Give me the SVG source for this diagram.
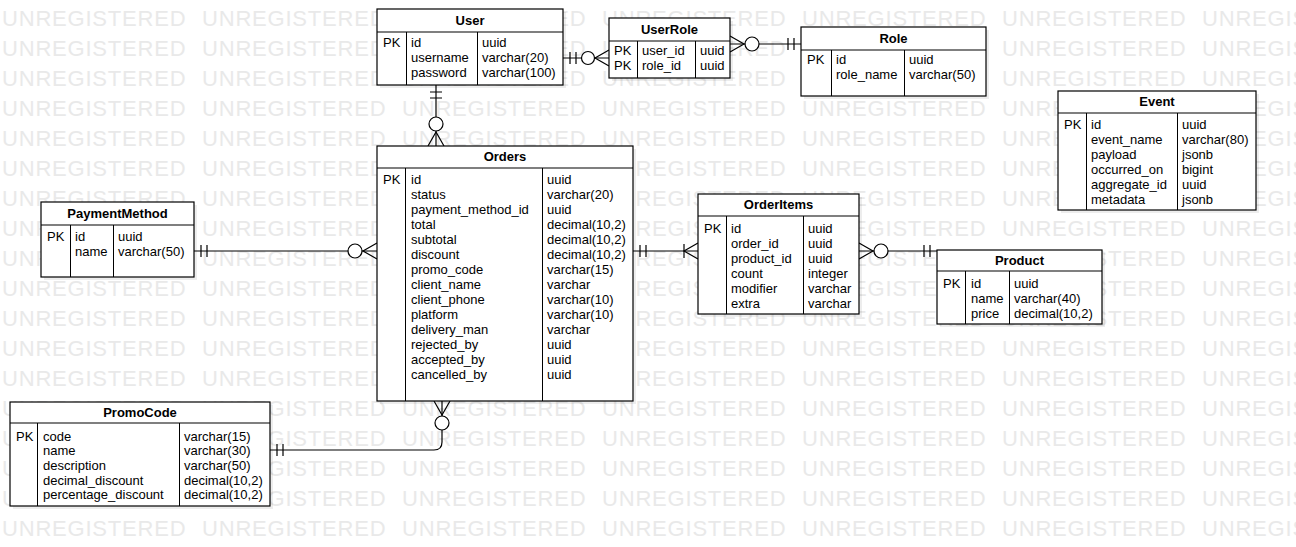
<svg xmlns="http://www.w3.org/2000/svg" width="1296" height="547" viewBox="0 0 1296 547">
  <style>
    .wm { font-family: "Liberation Sans", Arial, sans-serif; font-size: 22px; fill: #e9e9e9; letter-spacing: 0.8px; word-spacing: 8.7px; }
    .box { fill: #ffffff; stroke: #000; stroke-width: 1.2; }
    .shadow { fill: #000; fill-opacity: 0.07; }
    .sep { stroke: #000; stroke-width: 1.2; }
    .div { stroke: #000; stroke-width: 1; }
    .t { font-family: "Liberation Sans", Arial, sans-serif; font-size: 13px; fill: #000; }
    .h { font-family: "Liberation Sans", Arial, sans-serif; font-size: 13px; font-weight: bold; fill: #000; text-anchor: middle; }
    .ln { fill: none; stroke: #000; stroke-width: 1.2; }
    .ring { fill: #fff; stroke: #000; stroke-width: 1.2; }
  </style>

  <rect width="1296" height="547" fill="#ffffff"/>

  <!-- background watermark rows -->
  <g id="watermark">
    <text class="wm" x="2" y="26">UNREGISTERED UNREGISTERED UNREGISTERED UNREGISTERED UNREGISTERED UNREGISTERED UNREGISTERED</text>
    <text class="wm" x="2" y="56">UNREGISTERED UNREGISTERED UNREGISTERED UNREGISTERED UNREGISTERED UNREGISTERED UNREGISTERED</text>
    <text class="wm" x="2" y="86">UNREGISTERED UNREGISTERED UNREGISTERED UNREGISTERED UNREGISTERED UNREGISTERED UNREGISTERED</text>
    <text class="wm" x="2" y="116">UNREGISTERED UNREGISTERED UNREGISTERED UNREGISTERED UNREGISTERED UNREGISTERED UNREGISTERED</text>
    <text class="wm" x="2" y="146">UNREGISTERED UNREGISTERED UNREGISTERED UNREGISTERED UNREGISTERED UNREGISTERED UNREGISTERED</text>
    <text class="wm" x="2" y="176">UNREGISTERED UNREGISTERED UNREGISTERED UNREGISTERED UNREGISTERED UNREGISTERED UNREGISTERED</text>
    <text class="wm" x="2" y="206">UNREGISTERED UNREGISTERED UNREGISTERED UNREGISTERED UNREGISTERED UNREGISTERED UNREGISTERED</text>
    <text class="wm" x="2" y="236">UNREGISTERED UNREGISTERED UNREGISTERED UNREGISTERED UNREGISTERED UNREGISTERED UNREGISTERED</text>
    <text class="wm" x="2" y="266">UNREGISTERED UNREGISTERED UNREGISTERED UNREGISTERED UNREGISTERED UNREGISTERED UNREGISTERED</text>
    <text class="wm" x="2" y="296">UNREGISTERED UNREGISTERED UNREGISTERED UNREGISTERED UNREGISTERED UNREGISTERED UNREGISTERED</text>
    <text class="wm" x="2" y="326">UNREGISTERED UNREGISTERED UNREGISTERED UNREGISTERED UNREGISTERED UNREGISTERED UNREGISTERED</text>
    <text class="wm" x="2" y="356">UNREGISTERED UNREGISTERED UNREGISTERED UNREGISTERED UNREGISTERED UNREGISTERED UNREGISTERED</text>
    <text class="wm" x="2" y="386">UNREGISTERED UNREGISTERED UNREGISTERED UNREGISTERED UNREGISTERED UNREGISTERED UNREGISTERED</text>
    <text class="wm" x="2" y="416">UNREGISTERED UNREGISTERED UNREGISTERED UNREGISTERED UNREGISTERED UNREGISTERED UNREGISTERED</text>
    <text class="wm" x="2" y="446">UNREGISTERED UNREGISTERED UNREGISTERED UNREGISTERED UNREGISTERED UNREGISTERED UNREGISTERED</text>
    <text class="wm" x="2" y="476">UNREGISTERED UNREGISTERED UNREGISTERED UNREGISTERED UNREGISTERED UNREGISTERED UNREGISTERED</text>
    <text class="wm" x="2" y="506">UNREGISTERED UNREGISTERED UNREGISTERED UNREGISTERED UNREGISTERED UNREGISTERED UNREGISTERED</text>
    <text class="wm" x="2" y="536">UNREGISTERED UNREGISTERED UNREGISTERED UNREGISTERED UNREGISTERED UNREGISTERED UNREGISTERED</text>
  </g>

  <!-- relationship lines with ER end markers -->
  <g id="connectors">
    <!-- User 1 — 0..* UserRole -->
    <g>
      <path class="ln" d="M563 58H609"/>
      <path class="ln" d="M570 52V64M576 52V64"/>
      <path class="ln" d="M609 50L595 58L609 66"/>
      <circle class="ring" cx="588" cy="58" r="6.5"/>
    </g>
    <!-- Role 1 — 0..* UserRole -->
    <g>
      <path class="ln" d="M730 44H801"/>
      <path class="ln" d="M794 38V50M788 38V50"/>
      <path class="ln" d="M730 36L744 44L730 52"/>
      <circle class="ring" cx="752" cy="44" r="7"/>
    </g>
    <!-- User 1 — 0..* Orders -->
    <g>
      <path class="ln" d="M436 85V146"/>
      <path class="ln" d="M430 92H442M430 98H442"/>
      <path class="ln" d="M428 146L436 132L444 146"/>
      <circle class="ring" cx="436" cy="124" r="7"/>
    </g>
    <!-- PaymentMethod 1 — 0..* Orders -->
    <g>
      <path class="ln" d="M194 251H377"/>
      <path class="ln" d="M201 245V257M207 245V257"/>
      <path class="ln" d="M377 243L363 251L377 259"/>
      <circle class="ring" cx="355" cy="251" r="7"/>
    </g>
    <!-- Orders 1 — 1..* OrderItems -->
    <g>
      <path class="ln" d="M633 251H698"/>
      <path class="ln" d="M640 245V257M646 245V257"/>
      <path class="ln" d="M698 243L684 251L698 259"/>
      <path class="ln" d="M684 244V258"/>
    </g>
    <!-- Product 1 — 0..* OrderItems -->
    <g>
      <path class="ln" d="M859 251H937"/>
      <path class="ln" d="M930 245V257M924 245V257"/>
      <path class="ln" d="M859 243L873 251L859 259"/>
      <circle class="ring" cx="881" cy="251" r="7"/>
    </g>
    <!-- PromoCode 1 — 0..* Orders -->
    <g>
      <path class="ln" d="M270 450H434Q442 450 442 442V401"/>
      <path class="ln" d="M277 444V456M283 444V456"/>
      <path class="ln" d="M434 401L442 415L450 401"/>
      <circle class="ring" cx="442" cy="423" r="7"/>
    </g>
  </g>

  <!-- User -->
  <g id="user">
    <rect class="shadow" x="380" y="12" width="186" height="76"/>
    <rect class="box" x="377" y="9" width="186" height="76"/>
    <path class="sep" d="M377 32H563"/>
    <path class="div" d="M406.5 32V85M477.5 32V85"/>
    <text class="h" x="470" y="25">User</text>
    <text class="t" x="383" y="47">PK</text>
    <text class="t" x="411" y="47">id</text>
    <text class="t" x="411" y="62">username</text>
    <text class="t" x="411" y="77">password</text>
    <text class="t" x="482" y="47">uuid</text>
    <text class="t" x="482" y="62">varchar(20)</text>
    <text class="t" x="482" y="77">varchar(100)</text>
  </g>

  <!-- UserRole -->
  <g id="userrole">
    <rect class="shadow" x="612" y="21" width="121" height="60"/>
    <rect class="box" x="609" y="18" width="121" height="60"/>
    <path class="sep" d="M609 41H730"/>
    <path class="div" d="M637.5 41V78M695.5 41V78"/>
    <text class="h" x="669.5" y="34">UserRole</text>
    <text class="t" x="614" y="55">PK</text>
    <text class="t" x="614" y="70">PK</text>
    <text class="t" x="642" y="55">user_id</text>
    <text class="t" x="642" y="70">role_id</text>
    <text class="t" x="700" y="55">uuid</text>
    <text class="t" x="700" y="70">uuid</text>
  </g>

  <!-- Role -->
  <g id="role">
    <rect class="shadow" x="804" y="30" width="185" height="69"/>
    <rect class="box" x="801" y="27" width="185" height="69"/>
    <path class="sep" d="M801 50H986"/>
    <path class="div" d="M831.5 50V96M904.5 50V96"/>
    <text class="h" x="893.5" y="43">Role</text>
    <text class="t" x="807" y="64">PK</text>
    <text class="t" x="836" y="64">id</text>
    <text class="t" x="836" y="79">role_name</text>
    <text class="t" x="909" y="64">uuid</text>
    <text class="t" x="909" y="79">varchar(50)</text>
  </g>

  <!-- Event -->
  <g id="event">
    <rect class="shadow" x="1061" y="94" width="198" height="119"/>
    <rect class="box" x="1058" y="91" width="198" height="119"/>
    <path class="sep" d="M1058 113H1256"/>
    <path class="div" d="M1086.5 113V210M1177.5 113V210"/>
    <text class="h" x="1157" y="106">Event</text>
    <text class="t" x="1064" y="129">PK</text>
    <text class="t" x="1091" y="129">id</text>
    <text class="t" x="1091" y="144">event_name</text>
    <text class="t" x="1091" y="159">payload</text>
    <text class="t" x="1091" y="174">occurred_on</text>
    <text class="t" x="1091" y="189">aggregate_id</text>
    <text class="t" x="1091" y="204">metadata</text>
    <text class="t" x="1182" y="129">uuid</text>
    <text class="t" x="1182" y="144">varchar(80)</text>
    <text class="t" x="1182" y="159">jsonb</text>
    <text class="t" x="1182" y="174">bigint</text>
    <text class="t" x="1182" y="189">uuid</text>
    <text class="t" x="1182" y="204">jsonb</text>
  </g>

  <!-- PaymentMethod -->
  <g id="paymentmethod">
    <rect class="shadow" x="44" y="205" width="153" height="75"/>
    <rect class="box" x="41" y="202" width="153" height="75"/>
    <path class="sep" d="M41 225H194"/>
    <path class="div" d="M70.5 225V277M113.5 225V277"/>
    <text class="h" x="117.5" y="218">PaymentMethod</text>
    <text class="t" x="47" y="241">PK</text>
    <text class="t" x="75" y="241">id</text>
    <text class="t" x="75" y="256">name</text>
    <text class="t" x="118" y="241">uuid</text>
    <text class="t" x="118" y="256">varchar(50)</text>
  </g>

  <!-- Orders -->
  <g id="orders">
    <rect class="shadow" x="380" y="149" width="256" height="255"/>
    <rect class="box" x="377" y="146" width="256" height="255"/>
    <path class="sep" d="M377 168H633"/>
    <path class="div" d="M405.5 168V401M542.5 168V401"/>
    <text class="h" x="505" y="161">Orders</text>
    <text class="t" x="383" y="184">PK</text>
    <text class="t" x="411" y="184">id</text>
    <text class="t" x="411" y="199">status</text>
    <text class="t" x="411" y="214">payment_method_id</text>
    <text class="t" x="411" y="229">total</text>
    <text class="t" x="411" y="244">subtotal</text>
    <text class="t" x="411" y="259">discount</text>
    <text class="t" x="411" y="274">promo_code</text>
    <text class="t" x="411" y="289">client_name</text>
    <text class="t" x="411" y="304">client_phone</text>
    <text class="t" x="411" y="319">platform</text>
    <text class="t" x="411" y="334">delivery_man</text>
    <text class="t" x="411" y="349">rejected_by</text>
    <text class="t" x="411" y="364">accepted_by</text>
    <text class="t" x="411" y="379">cancelled_by</text>
    <text class="t" x="547" y="184">uuid</text>
    <text class="t" x="547" y="199">varchar(20)</text>
    <text class="t" x="547" y="214">uuid</text>
    <text class="t" x="547" y="229">decimal(10,2)</text>
    <text class="t" x="547" y="244">decimal(10,2)</text>
    <text class="t" x="547" y="259">decimal(10,2)</text>
    <text class="t" x="547" y="274">varchar(15)</text>
    <text class="t" x="547" y="289">varchar</text>
    <text class="t" x="547" y="304">varchar(10)</text>
    <text class="t" x="547" y="319">varchar(10)</text>
    <text class="t" x="547" y="334">varchar</text>
    <text class="t" x="547" y="349">uuid</text>
    <text class="t" x="547" y="364">uuid</text>
    <text class="t" x="547" y="379">uuid</text>
  </g>

  <!-- OrderItems -->
  <g id="orderitems">
    <rect class="shadow" x="701" y="197" width="161" height="120"/>
    <rect class="box" x="698" y="194" width="161" height="120"/>
    <path class="sep" d="M698 216H859"/>
    <path class="div" d="M726.5 216V314M803.5 216V314"/>
    <text class="h" x="778.5" y="209">OrderItems</text>
    <text class="t" x="704" y="233">PK</text>
    <text class="t" x="731" y="233">id</text>
    <text class="t" x="731" y="248">order_id</text>
    <text class="t" x="731" y="263">product_id</text>
    <text class="t" x="731" y="278">count</text>
    <text class="t" x="731" y="293">modifier</text>
    <text class="t" x="731" y="308">extra</text>
    <text class="t" x="808" y="233">uuid</text>
    <text class="t" x="808" y="248">uuid</text>
    <text class="t" x="808" y="263">uuid</text>
    <text class="t" x="808" y="278">integer</text>
    <text class="t" x="808" y="293">varchar</text>
    <text class="t" x="808" y="308">varchar</text>
  </g>

  <!-- Product -->
  <g id="product">
    <rect class="shadow" x="940" y="253" width="165" height="74"/>
    <rect class="box" x="937" y="250" width="165" height="74"/>
    <path class="sep" d="M937 271H1102"/>
    <path class="div" d="M965.5 271V324M1009.5 271V324"/>
    <text class="h" x="1019.5" y="265">Product</text>
    <text class="t" x="943" y="288">PK</text>
    <text class="t" x="971" y="288">id</text>
    <text class="t" x="971" y="303">name</text>
    <text class="t" x="971" y="318">price</text>
    <text class="t" x="1014" y="288">uuid</text>
    <text class="t" x="1014" y="303">varchar(40)</text>
    <text class="t" x="1014" y="318">decimal(10,2)</text>
  </g>

  <!-- PromoCode -->
  <g id="promocode">
    <rect class="shadow" x="13" y="405" width="260" height="104"/>
    <rect class="box" x="10" y="402" width="260" height="104"/>
    <path class="sep" d="M10 423H270"/>
    <path class="div" d="M37.5 423V506M179.5 423V506"/>
    <text class="h" x="140" y="417">PromoCode</text>
    <text class="t" x="16" y="441">PK</text>
    <text class="t" x="43" y="441">code</text>
    <text class="t" x="43" y="455">name</text>
    <text class="t" x="43" y="470">description</text>
    <text class="t" x="43" y="485">decimal_discount</text>
    <text class="t" x="43" y="499">percentage_discount</text>
    <text class="t" x="184" y="441">varchar(15)</text>
    <text class="t" x="184" y="455">varchar(30)</text>
    <text class="t" x="184" y="470">varchar(50)</text>
    <text class="t" x="184" y="485">decimal(10,2)</text>
    <text class="t" x="184" y="499">decimal(10,2)</text>
  </g>
</svg>
